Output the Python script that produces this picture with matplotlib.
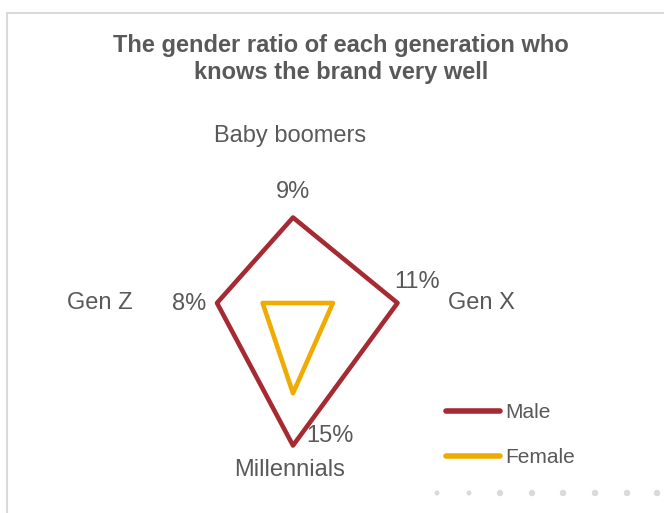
import numpy as np
import matplotlib
matplotlib.use("Agg")
import matplotlib.pyplot as plt
from matplotlib.lines import Line2D
from matplotlib.patches import Circle

plt.rcParams['font.family'] = ['Liberation Sans', 'DejaVu Sans']

# Data
categories = ["Baby boomers", "Gen X", "Millennials", "Gen Z"]
male = [9, 11, 15, 8]
female = [0, 4.2, 9.5, 3.2]
series_names = ["Male", "Female"]

TEXT = "#595959"
MALE_C = "#A52A31"
FEMALE_C = "#F0AB00"
BORDER = "#D9D9D9"

W, H = 664, 513
fig = plt.figure(figsize=(W / 100, H / 100), dpi=100)
fig.patch.set_facecolor("white")

# Chart frame (top and left edges visible)
fig.add_artist(Line2D([7 / W, 7 / W], [0, 1 - 13 / H], transform=fig.transFigure,
                      color=BORDER, lw=1.5))
fig.add_artist(Line2D([7 / W, 1], [1 - 13 / H, 1 - 13 / H], transform=fig.transFigure,
                      color=BORDER, lw=1.5))

# Title
fig.text(341 / W, 1 - 59 / H,
         "The gender ratio of each generation who\nknows the brand very well",
         ha="center", va="center", fontsize=17, fontweight="bold",
         color=TEXT, linespacing=1.22)

# Radar axes: centre at (293, 303) px, radius 16 units * 9.5 px
cx, cy = 293, 303
rmax = 16
R = rmax * 9.5
ax = fig.add_axes([(cx - R) / W, (H - cy - R) / H, 2 * R / W, 2 * R / H],
                  projection="polar")
ax.set_theta_offset(np.pi / 2)
ax.set_theta_direction(-1)
ax.set_ylim(0, rmax)
ax.set_xticks([])
ax.set_yticks([])
ax.grid(False)
ax.spines["polar"].set_visible(False)
ax.patch.set_alpha(0)

theta = np.linspace(0, 2 * np.pi, len(categories), endpoint=False)

# Closed outlines (no fill) so every vertex gets a proper join
for vals, col, name in [(male, MALE_C, series_names[0]),
                        (female, FEMALE_C, series_names[1])]:
    ax.fill(theta, vals, facecolor="none", edgecolor=col, lw=3.3,
            joinstyle="round", label=name)

# Category labels
cat_offsets = [(-3, 167), (188, 0), (-3, -167), (-193, 0)]
for t, name, off in zip(theta, categories, cat_offsets):
    ax.annotate(name, xy=(t, 0), xytext=off, textcoords="offset pixels",
                ha="center", va="center", fontsize=17, color=TEXT,
                annotation_clip=False)

# Value labels for the male series
val_offsets = [(0, 26), (20, 21), (37, 10), (-28, -1)]
for t, v, off in zip(theta, male, val_offsets):
    ax.annotate(f"{v}%", xy=(t, v), xytext=off, textcoords="offset pixels",
                ha="center", va="center", fontsize=17, color=TEXT,
                annotation_clip=False)

# Legend
handles = [Line2D([], [], color=MALE_C, lw=4, solid_capstyle="round"),
           Line2D([], [], color=FEMALE_C, lw=4, solid_capstyle="round")]
leg = fig.legend(handles, series_names, loc="center left",
                 bbox_to_anchor=(446 / W, 1 - 435 / H),
                 frameon=False, fontsize=15, handlelength=2.6,
                 handletextpad=0.25, labelspacing=1.25, borderpad=0,
                 borderaxespad=0)
for txt in leg.get_texts():
    txt.set_color(TEXT)

# Decorative dots along the bottom edge
for i, x in enumerate([437, 469, 500, 532, 563, 595, 627, 657]):
    r = 2.5 if i < 2 else 3.2
    fig.add_artist(Circle((x, H - 493), r, transform=None, color="#DADADA", lw=0))

fig.savefig("out.png", dpi=100)
